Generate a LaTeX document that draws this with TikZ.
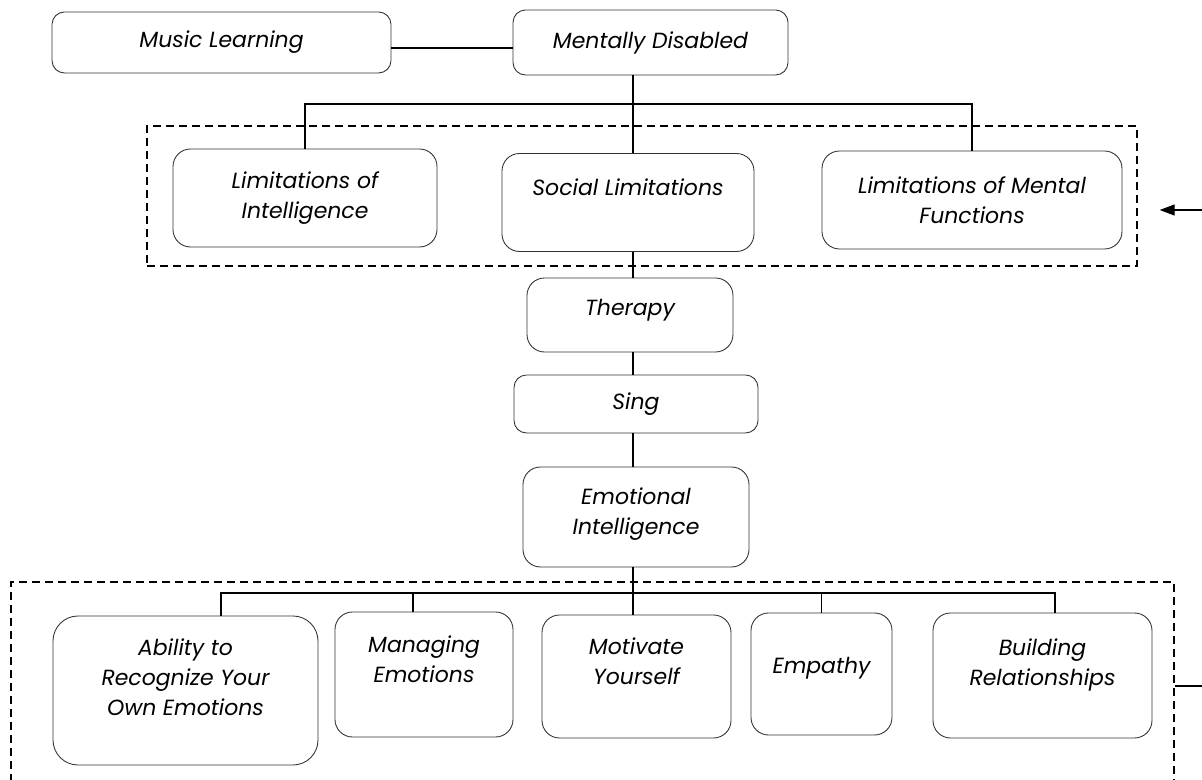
\documentclass[tikz,border=0pt]{standalone}
\usepackage{fontspec}
\setmainfont{Poppins}
\usepackage{tikz}
\usetikzlibrary{arrows.meta,positioning,calc}

\begin{document}
\begin{tikzpicture}[
      font=\fontsize{12.5}{17}\selectfont\itshape,
      box/.style={draw=black!80, rounded corners=3.5mm, align=center,
                  inner sep=1mm, line width=0.5pt},
      conn/.style={line width=0.8pt},
      frame/.style={draw, dash pattern=on 1.6mm off 1mm, line width=0.8pt,
                    inner sep=0pt},
      lift/.style={text depth=#1},
      >={Triangle[length=3mm,width=2.2mm]}]

    \useasboundingbox (0mm,0mm) rectangle (240.4mm,-156mm);

    % dashed groups
    \node[frame, minimum width=198mm, minimum height=28mm] (grp1) at (128.4mm,-39.2mm) {};
    \node[frame, minimum width=232.6mm, minimum height=47.6mm] (grp2) at (118.5mm,-140.2mm) {};

    \node[box, rounded corners=2.5mm, minimum width=67.8mm, minimum height=12.2mm] (ml) at (44.3mm,-8.5mm)
      {Music Learning};
    \node[box, rounded corners=2.5mm, minimum width=55mm, minimum height=13mm] (md) at (130.1mm,-8.5mm)
      {Mentally Disabled};
    \coordinate (lnk) at (0mm,-9.6mm);
    \draw[conn] (ml.east |- lnk) -- (md.west |- lnk);

    \node[box, minimum width=52.8mm, minimum height=19.6mm] (loi) at (61mm,-39.6mm)
      {Limitations of\\Intelligence};
    \node[box, lift=17pt, minimum width=50.4mm, minimum height=19.6mm] (soc) at (125.6mm,-40.5mm)
      {Social Limitations};
    \node[box, minimum width=60mm, minimum height=19.6mm] (lomf) at (194.4mm,-40mm)
      {Limitations of Mental\\Functions};

    \coordinate (trunk) at (126.6mm,-20.8mm);
    \draw[conn] (trunk |- md.south) -- (trunk |- soc.north);
    \draw[conn] (loi.north) |- (trunk) -| (lomf.north);

    \node[box, lift=9pt, minimum width=41.2mm, minimum height=14.8mm] (ther) at (126mm,-63mm)
      {Therapy};
    \node[box, rounded corners=2.5mm, minimum width=48.8mm, minimum height=11.6mm] (sing) at (127.2mm,-80.8mm)
      {Sing};
    \node[box, lift=7pt, minimum width=45.2mm, minimum height=20mm] (ei) at (127.2mm,-103.4mm)
      {Emotional\\Intelligence};
    \draw[conn] (trunk |- soc.south) -- (trunk |- ther.north);
    \draw[conn] (trunk |- ther.south) -- (trunk |- sing.north);
    \draw[conn] (trunk |- sing.south) -- (trunk |- ei.north);

    \node[box, rounded corners=5mm, lift=15pt, minimum width=53mm, minimum height=29.8mm] (abil) at (37.1mm,-138.1mm)
      {Ability to\\Recognize Your\\Own Emotions};
    \node[box, lift=17pt, minimum width=35.6mm, minimum height=25mm] (mgmt) at (84.8mm,-134.9mm)
      {Managing\\Emotions};
    \node[box, lift=17.5pt, minimum width=37.8mm, minimum height=24.6mm] (mot) at (127.3mm,-135.3mm)
      {Motivate\\Yourself};
    \node[box, lift=10pt, minimum width=28.2mm, minimum height=24.4mm] (emp) at (164.3mm,-134.8mm)
      {Empathy};
    \node[box, lift=15.5pt, minimum width=43.8mm, minimum height=25mm] (build) at (208.5mm,-135.1mm)
      {Building\\Relationships};

    \coordinate (trunk2) at (126.6mm,-118.6mm);
    \coordinate (b1) at (44.2mm,-118.6mm);
    \coordinate (b2) at (82.6mm,-118.6mm);
    \coordinate (b5) at (211mm,-118.6mm);
    \draw[conn] (trunk |- ei.south) -- (trunk |- mot.north);
    \draw[conn] (b1 |- abil.north) -- (b1) -- (b5) -- (b5 |- build.north);
    \draw[conn] (b2) -- (b2 |- mgmt.north);
    \draw[conn] (emp.north |- trunk2) -- (emp.north);

    % feedback ends at the right edge
    \coordinate (fb1) at (240.4mm,-42mm);
    \coordinate (fb2) at (240.4mm,-137.2mm);
    \draw[->, conn, shorten >=4.4mm] (fb1) -- (fb1 -| grp1.east);
    \draw[conn] (fb2 -| grp2.east) -- (fb2);
  \end{tikzpicture}
\end{document}
